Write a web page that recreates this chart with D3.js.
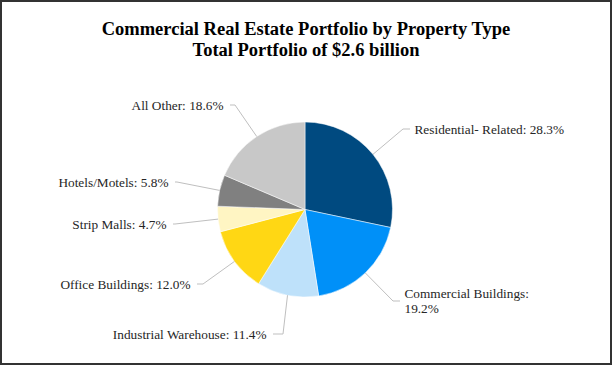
<!DOCTYPE html>
<html>
<head>
<meta charset="utf-8">
<script src="https://cdn.jsdelivr.net/npm/d3@7"></script>
<style>
  body { margin: 0; background: #fff; }
  text { font-family: "Liberation Serif", "Times New Roman", serif; }
</style>
</head>
<body>
<svg id="chart" width="613" height="366"></svg>
<script>
// data
const titleLines = ["Commercial Real Estate Portfolio by Property Type", "Total Portfolio of $2.6 billion"];
const categories = ["Residential- Related", "Commercial Buildings", "Industrial Warehouse",
  "Office Buildings", "Strip Malls", "Hotels/Motels", "All Other"];
const shares = [28.3, 19.2, 11.4, 12.0, 4.7, 5.8, 18.6];
const colors = ["#004a80", "#0090f8", "#bee1fa", "#ffd714", "#fff5c3", "#808080", "#c8c8c8"];

// leader line elbows / ends (layout only)
const labelLayout = [
  { elbow: [403, 129], end: [410, 129], side: "right" },
  { elbow: [393, 301], end: [400, 301], side: "right", wrap: true },
  { elbow: [283, 334], end: [273, 334], side: "left" },
  { elbow: [203, 284], end: [197, 284], side: "left" },
  { elbow: [175, 224], end: [173, 224], side: "left" },
  { elbow: [177, 182], end: [175, 182], side: "left" },
  { elbow: [235, 105], end: [230, 105], side: "left" }
];

const svg = d3.select("#chart");
const cx = 305, cy = 209.5, r = 87.5;

// outer frame
svg.append("rect")
  .attr("x", 1).attr("y", 1)
  .attr("width", 610).attr("height", 363)
  .attr("fill", "#fff")
  .attr("stroke", "#333")
  .attr("stroke-width", 2);

svg.selectAll(".title")
  .data(titleLines)
  .enter()
  .append("text")
  .attr("class", "title")
  .attr("x", 306)
  .attr("y", (d, i) => 35 + i * 21)
  .attr("text-anchor", "middle")
  .style("font-size", "18.5px")
  .style("font-weight", "bold")
  .style("fill", "#000")
  .text(d => d);

const pie = d3.pie().sort(null).value(d => d)(shares);
const arc = d3.arc().innerRadius(0).outerRadius(r);
const edge = d3.arc().innerRadius(r).outerRadius(r);

const g = svg.append("g").attr("transform", `translate(${cx},${cy})`);

g.selectAll("path")
  .data(pie)
  .enter()
  .append("path")
  .attr("d", arc)
  .attr("fill", (d, i) => colors[i])
  .attr("stroke", "#fff")
  .attr("stroke-width", 0.5);

// leader lines
svg.selectAll(".leader")
  .data(pie)
  .enter()
  .append("polyline")
  .attr("class", "leader")
  .attr("points", (d, i) => {
    const c = edge.centroid(d);
    const L = labelLayout[i];
    return [[cx + c[0], cy + c[1]], L.elbow, L.end].map(p => p.join(",")).join(" ");
  })
  .attr("fill", "none")
  .attr("stroke", "#bfbfbf")
  .attr("stroke-width", 1);

// labels
const labels = svg.selectAll(".label")
  .data(pie)
  .enter()
  .append("text")
  .attr("class", "label")
  .attr("text-anchor", (d, i) => labelLayout[i].side === "right" ? "start" : "end")
  .style("font-size", "13.3px")
  .style("fill", "#262626");

labels.each(function (d, i) {
  const L = labelLayout[i];
  const x = L.end[0] + (L.side === "right" ? 4.5 : -6.5);
  const txt = `${categories[i]}: ${shares[i].toFixed(1)}%`;
  const parts = L.wrap ? [categories[i] + ":", shares[i].toFixed(1) + "%"] : [txt];
  const y0 = L.end[1] + 4.7 - (parts.length - 1) * 7.5;
  d3.select(this).selectAll("tspan")
    .data(parts)
    .enter()
    .append("tspan")
    .attr("x", x)
    .attr("y", (p, k) => y0 + k * 15)
    .text(p => p);
});
</script>
</body>
</html>
